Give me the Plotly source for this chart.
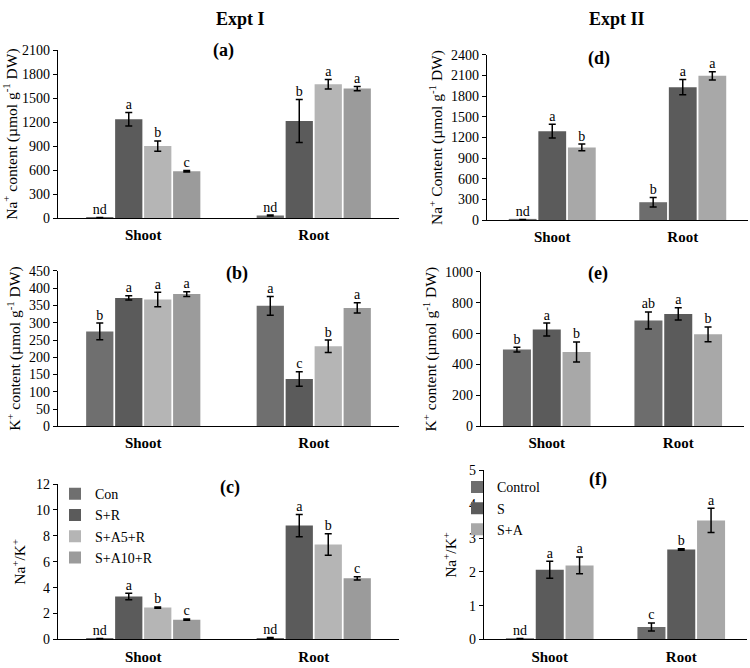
import plotly.graph_objects as go

# ---------------- data ----------------
categories = ["Shoot", "Root"]
tick_text = ["<b>Shoot</b>", "<b>Root</b>"]

expt1_series = ["Con", "S+R", "S+A5+R", "S+A10+R"]
expt2_series = ["Control", "S", "S+A"]

# Expt I - (a) Na+ content
na1_con = [5, 33]
na1_sr = [1235, 1213]
na1_sa5 = [900, 1673]
na1_sa10 = [586, 1618]
na1_con_err = [3, 6]
na1_sr_err = [85, 268]
na1_sa5_err = [65, 60]
na1_sa10_err = [10, 27]
na1_con_let = ["nd", "nd"]
na1_sr_let = ["a", "b"]
na1_sa5_let = ["b", "a"]
na1_sa10_let = ["c", "a"]

# Expt I - (b) K+ content
k1_con = [275, 349]
k1_sr = [372, 137]
k1_sa5 = [367, 232]
k1_sa10 = [383, 343]
k1_con_err = [24, 27]
k1_sr_err = [6, 21]
k1_sa5_err = [21, 18]
k1_sa10_err = [7, 15]
k1_con_let = ["b", "a"]
k1_sr_let = ["a", "c"]
k1_sa5_let = ["a", "b"]
k1_sa10_let = ["a", "a"]

# Expt I - (c) Na+/K+
r1_con = [0.05, 0.12]
r1_sr = [3.31, 8.79]
r1_sa5 = [2.46, 7.33]
r1_sa10 = [1.53, 4.72]
r1_con_err = [0.02, 0.04]
r1_sr_err = [0.25, 0.85]
r1_sa5_err = [0.05, 0.83]
r1_sa10_err = [0.05, 0.12]
r1_con_let = ["nd", "nd"]
r1_sr_let = ["a", "a"]
r1_sa5_let = ["b", "b"]
r1_sa10_let = ["c", "c"]

# Expt II - (d) Na+ content
na2_ctl = [5, 260]
na2_s = [1292, 1931]
na2_sa = [1056, 2097]
na2_ctl_err = [3, 68]
na2_s_err = [100, 110]
na2_sa_err = [48, 60]
na2_ctl_let = ["nd", "b"]
na2_s_let = ["a", "a"]
na2_sa_let = ["b", "a"]

# Expt II - (e) K+ content
k2_ctl = [497, 686]
k2_s = [627, 728]
k2_sa = [482, 596]
k2_ctl_err = [15, 55]
k2_s_err = [42, 40]
k2_sa_err = [65, 48]
k2_ctl_let = ["b", "ab"]
k2_s_let = ["a", "a"]
k2_sa_let = ["b", "b"]

# Expt II - (f) Na+/K+
r2_ctl = [0.02, 0.37]
r2_s = [2.06, 2.66]
r2_sa = [2.19, 3.52]
r2_ctl_err = [0.01, 0.12]
r2_s_err = [0.25, 0.02]
r2_sa_err = [0.25, 0.36]
r2_ctl_let = ["nd", "c"]
r2_s_let = ["a", "b"]
r2_sa_let = ["a", "a"]

# ---------------- styling ----------------
FONT = "Liberation Serif, Times New Roman, Times, serif"
colors1 = ["#6f6f6f", "#5b5b5b", "#b5b5b5", "#9b9b9b"]
colors2 = ["#6d6d6d", "#5b5b5b", "#a8a8a8"]

panels = [
    ("x", "y", expt1_series, colors1,
     [na1_con, na1_sr, na1_sa5, na1_sa10],
     [na1_con_err, na1_sr_err, na1_sa5_err, na1_sa10_err],
     [na1_con_let, na1_sr_let, na1_sa5_let, na1_sa10_let], None),
    ("x2", "y2", expt1_series, colors1,
     [k1_con, k1_sr, k1_sa5, k1_sa10],
     [k1_con_err, k1_sr_err, k1_sa5_err, k1_sa10_err],
     [k1_con_let, k1_sr_let, k1_sa5_let, k1_sa10_let], None),
    ("x3", "y3", expt1_series, colors1,
     [r1_con, r1_sr, r1_sa5, r1_sa10],
     [r1_con_err, r1_sr_err, r1_sa5_err, r1_sa10_err],
     [r1_con_let, r1_sr_let, r1_sa5_let, r1_sa10_let], "legend"),
    ("x4", "y4", expt2_series, colors2,
     [na2_ctl, na2_s, na2_sa],
     [na2_ctl_err, na2_s_err, na2_sa_err],
     [na2_ctl_let, na2_s_let, na2_sa_let], None),
    ("x5", "y5", expt2_series, colors2,
     [k2_ctl, k2_s, k2_sa],
     [k2_ctl_err, k2_s_err, k2_sa_err],
     [k2_ctl_let, k2_s_let, k2_sa_let], None),
    ("x6", "y6", expt2_series, colors2,
     [r2_ctl, r2_s, r2_sa],
     [r2_ctl_err, r2_s_err, r2_sa_err],
     [r2_ctl_let, r2_s_let, r2_sa_let], "legend2"),
]

fig = go.Figure()

for xa, ya, names, cols, vals, errs, lets, leg in panels:
    for name, col, v, e, l in zip(names, cols, vals, errs, lets):
        fig.add_trace(go.Bar(
            x=categories, y=v, name=name, xaxis=xa, yaxis=ya,
            marker=dict(color=col, line=dict(width=0)),
            error_y=dict(type="data", array=e, color="black", thickness=1.5, width=3.5),
            offsetgroup=name, alignmentgroup=xa,
            showlegend=leg is not None, legend=leg if leg else "legend",
        ))
        fig.add_trace(go.Scatter(
            x=categories, y=[a + b for a, b in zip(v, e)], text=l,
            mode="text", textposition="top center",
            textfont=dict(family=FONT, size=14, color="black"),
            xaxis=xa, yaxis=ya, offsetgroup=name, alignmentgroup=xa,
            showlegend=False, hoverinfo="skip", cliponaxis=False,
        ))

def px_x(p):
    return p / 750.0

def px_y(p):
    return 1 - p / 668.0

xdom_left = [px_x(58), px_x(399)]
x_doms = {
    "x": xdom_left, "x2": xdom_left, "x3": xdom_left,
    "x4": [px_x(487), px_x(748)],
    "x5": [px_x(481), px_x(744)],
    "x6": [px_x(484), px_x(747)],
}
y_doms = {
    "y": [px_y(216), px_y(44)],
    "y2": [px_y(429), px_y(270)],
    "y3": [px_y(647), px_y(488)],
    "y4": [px_y(218), px_y(49)],
    "y5": [px_y(429), px_y(271)],
    "y6": [px_y(647), px_y(474)],
}
y_ranges = {"y": [0, 2100], "y2": [0, 450], "y3": [0, 12],
            "y4": [0, 2400], "y5": [0, 1000], "y6": [0, 5]}
y_dticks = {"y": 300, "y2": 50, "y3": 2, "y4": 300, "y5": 200, "y6": 1}
y_titles = {
    "y": "Na<sup>+</sup> content (µmol g<sup>-1</sup> DW)",
    "y2": "K<sup>+</sup> content (µmol g<sup>-1</sup> DW)",
    "y3": "Na<sup>+</sup>/K<sup>+</sup>",
    "y4": "Na<sup>+</sup> Content (µmol g<sup>-1</sup> DW)",
    "y5": "K<sup>+</sup> content (µmol g<sup>-1</sup> DW)",
    "y6": "Na<sup>+</sup>/K<sup>+</sup>",
}
y_standoff = {"y": 4, "y2": 4, "y3": 6, "y4": 4, "y5": 4, "y6": 8}

layout = dict(
    width=750, height=668,
    margin=dict(l=0, r=0, t=0, b=0),
    paper_bgcolor="white", plot_bgcolor="white",
    barmode="group", bargap=0.32, bargroupgap=0.06,
    scattermode="group", scattergap=0.32,
    font=dict(family=FONT, size=14, color="black"),
    legend=dict(x=px_x(55), y=px_y(482), xanchor="left", yanchor="top",
                bgcolor="rgba(0,0,0,0)", font=dict(family=FONT, size=14),
                tracegroupgap=0),
    legend2=dict(x=px_x(457), y=px_y(475), xanchor="left", yanchor="top",
                 bgcolor="rgba(0,0,0,0)", font=dict(family=FONT, size=14),
                 tracegroupgap=0),
)

for xa in ["x", "x2", "x3", "x4", "x5", "x6"]:
    ya = "y" + xa[1:]
    xkey = "xaxis" + xa[1:]
    ykey = "yaxis" + ya[1:]
    layout[xkey] = dict(
        domain=x_doms[xa], anchor=ya, type="category",
        showline=True, linecolor="black", linewidth=1.2,
        ticks="", showgrid=False, zeroline=False,
        tickvals=categories, ticktext=tick_text,
        tickfont=dict(family=FONT, size=15, color="black"),
        ticklabelstandoff=3,
    )
    layout[ykey] = dict(
        domain=y_doms[ya], anchor=xa, range=y_ranges[ya], dtick=y_dticks[ya],
        showline=True, linecolor="black", linewidth=1.2,
        ticks="outside", ticklen=4, tickcolor="black", tickwidth=1,
        showgrid=False, zeroline=False,
        tickfont=dict(family=FONT, size=14, color="black"),
        title=dict(text=y_titles[ya], font=dict(family=FONT, size=15.5, color="black"),
                   standoff=y_standoff[ya]),
    )

annotations = [
    dict(text="<b>Expt I</b>", x=px_x(240), y=px_y(12)),
    dict(text="<b>Expt II</b>", x=px_x(617), y=px_y(12)),
    dict(text="<b>(a)</b>", x=px_x(223), y=px_y(45)),
    dict(text="<b>(b)</b>", x=px_x(237), y=px_y(273)),
    dict(text="<b>(c)</b>", x=px_x(230), y=px_y(492)),
    dict(text="<b>(d)</b>", x=px_x(599), y=px_y(53)),
    dict(text="<b>(e)</b>", x=px_x(598), y=px_y(273)),
    dict(text="<b>(f)</b>", x=px_x(598), y=px_y(483)),
]
for a in annotations:
    a.update(xref="paper", yref="paper", showarrow=False,
             xanchor="center", yanchor="middle",
             font=dict(family=FONT, size=18, color="black"))
layout["annotations"] = annotations

fig.update_layout(layout)
fig.write_html("out.html", config={"displayModeBar": False},
               post_script="document.body.style.margin='0';")
